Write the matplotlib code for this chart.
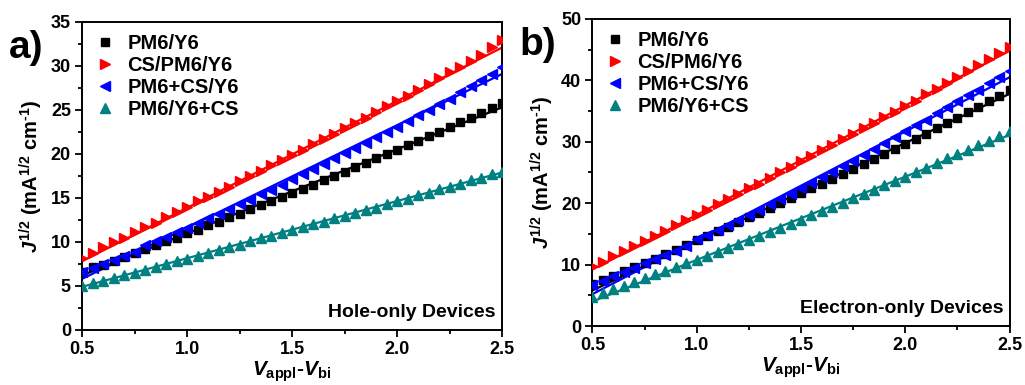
import numpy as np
import matplotlib.pyplot as plt

plt.rcParams['font.family'] = ['Liberation Sans', 'DejaVu Sans']
plt.rcParams['font.weight'] = 'bold'
plt.rcParams['mathtext.fontset'] = 'custom'
plt.rcParams['mathtext.rm'] = 'Liberation Sans:bold'
plt.rcParams['mathtext.it'] = 'Liberation Sans:bold:italic'
plt.rcParams['mathtext.bf'] = 'Liberation Sans:bold'

# applied voltage minus built-in voltage, 0.5 .. 2.5 V in 0.05 V steps
volts = [round(0.5 + 0.05 * i, 2) for i in range(41)]

labels = ['PM6/Y6', 'CS/PM6/Y6', 'PM6+CS/Y6', 'PM6/Y6+CS']
colors = ['#000000', '#ff0000', '#0000ff', '#008080']
markers = ['s', '>', '<', '^']

# hole-only devices, J^1/2
hole_pm6y6 = [6.6, 7.1, 7.4, 7.8, 8.3, 8.7, 9.2, 9.6, 10.1, 10.5, 11.0, 11.4, 11.9, 12.3,
              12.8, 13.2, 13.7, 14.2, 14.6, 15.1, 15.6, 16.0, 16.5, 17.0, 17.5, 18.0, 18.5,
              19.0, 19.5, 20.0, 20.5, 21.0, 21.5, 22.0, 22.5, 23.1, 23.6, 24.1, 24.7, 25.2, 25.8]
hole_cs_top = [8.2, 8.8, 9.4, 10.0, 10.5, 11.1, 11.7, 12.2, 12.8, 13.4, 14.0, 14.6, 15.1, 15.7,
               16.3, 16.9, 17.5, 18.1, 18.7, 19.3, 19.9, 20.5, 21.1, 21.7, 22.3, 22.9, 23.5,
               24.1, 24.8, 25.4, 26.0, 26.6, 27.3, 27.9, 28.6, 29.3, 29.9, 30.6, 31.3, 32.1, 32.9]
hole_cs_pm6 = [6.6, 7.0, 7.5, 7.9, 8.4, 8.9, 9.6, 10.1, 10.6, 11.1, 11.6, 12.1, 12.7, 13.2,
               13.8, 14.3, 14.8, 15.4, 15.9, 16.5, 17.1, 17.7, 18.3, 18.9, 19.5, 20.1, 20.7,
               21.3, 21.9, 22.5, 23.1, 23.7, 24.4, 25.0, 25.7, 26.3, 27.0, 27.7, 28.4, 29.1, 29.9]
hole_cs_y6 = [5.0, 5.3, 5.6, 5.9, 6.2, 6.5, 6.8, 7.1, 7.5, 7.8, 8.1, 8.4, 8.7, 9.1,
              9.4, 9.7, 10.1, 10.4, 10.7, 11.0, 11.4, 11.7, 12.0, 12.3, 12.7, 13.0, 13.3,
              13.6, 13.9, 14.3, 14.6, 14.9, 15.3, 15.6, 16.0, 16.3, 16.6, 17.0, 17.3, 17.7, 18.0]
# linear fits: value at 0.5 V and at 2.5 V
hole_fit_start = [6.2, 7.8, 5.8, 4.9]
hole_fit_end = [25.3, 32.1, 29.1, 17.9]

# electron-only devices, J^1/2
elec_pm6y6 = [6.9, 7.5, 8.2, 8.9, 9.6, 10.3, 11.0, 11.7, 12.4, 13.2, 14.0, 14.7, 15.4, 16.2,
              16.9, 17.7, 18.4, 19.2, 20.0, 20.8, 21.7, 22.4, 23.2, 24.0, 24.8, 25.6, 26.4,
              27.2, 28.0, 28.8, 29.7, 30.5, 31.3, 32.2, 33.1, 33.9, 34.8, 35.7, 36.6, 37.5, 38.5]
elec_cs_top = [9.7, 10.5, 11.4, 12.2, 13.0, 13.9, 14.7, 15.5, 16.4, 17.2, 18.1, 18.9, 19.8, 20.7,
               21.5, 22.4, 23.2, 24.1, 25.0, 25.9, 26.8, 27.7, 28.6, 29.5, 30.4, 31.3, 32.2,
               33.1, 34.0, 34.9, 35.8, 36.7, 37.7, 38.6, 39.6, 40.6, 41.5, 42.5, 43.5, 44.5, 45.5]
elec_cs_pm6 = [6.7, 7.4, 8.1, 8.8, 9.5, 10.2, 10.9, 11.6, 12.3, 13.1, 14.1, 14.9, 15.7, 16.5,
               17.3, 18.1, 18.9, 19.8, 20.7, 21.5, 22.4, 23.3, 24.2, 25.1, 26.0, 26.9, 27.9,
               28.8, 29.8, 30.7, 31.7, 32.7, 33.6, 34.6, 35.6, 36.6, 37.6, 38.5, 39.5, 40.5, 41.5]
elec_cs_y6 = [4.8, 5.4, 6.0, 6.6, 7.2, 7.8, 8.4, 9.0, 9.6, 10.2, 10.8, 11.4, 12.1, 12.7,
              13.4, 14.0, 14.7, 15.3, 16.0, 16.6, 17.3, 18.0, 18.7, 19.4, 20.1, 20.8, 21.5,
              22.2, 22.9, 23.6, 24.3, 25.0, 25.8, 26.5, 27.3, 28.0, 28.7, 29.5, 30.2, 31.0, 31.7]
elec_fit_start = [5.8, 9.2, 5.2, 4.0]
elec_fit_end = [37.8, 44.8, 40.5, 31.1]


def drawPanel(ax, series, fitStart, fitEnd, ymax, ystep, tag, note):
    for i in range(4):
        ax.plot([0.5, 2.5], [fitStart[i], fitEnd[i]], color=colors[i], lw=1.6, zorder=2)
        ms = 5.5 if markers[i] == 's' else 7
        ax.plot(volts, series[i], ls='none', marker=markers[i], ms=ms, color=colors[i],
                mec=colors[i], label=labels[i], zorder=3)

    ax.set_xlim(0.5, 2.5)
    ax.set_ylim(0, ymax)
    ax.set_xticks([0.5, 1.0, 1.5, 2.0, 2.5])
    ax.set_xticks(np.arange(0.75, 2.5, 0.5), minor=True)
    ax.set_yticks(np.arange(0, ymax + 1, ystep))
    ax.set_yticks(np.arange(ystep / 2, ymax, ystep), minor=True)
    ax.tick_params(which='major', direction='out', length=5, width=1.3, labelsize=13, pad=3)
    ax.tick_params(which='minor', direction='out', length=3, width=1.3)
    for s in ax.spines.values():
        s.set_linewidth(1.4)

    ax.set_xlabel(r'$\mathit{V}_{\mathrm{appl}}$-$\mathit{V}_{\mathrm{bi}}$', fontsize=15,
                  fontweight='bold', labelpad=1)
    ax.set_ylabel(r'$\mathit{J}^{1/2}$ (mA$^{1/2}$ cm$^{\text{-}1}$)', fontsize=14.5,
                  fontweight='bold', labelpad=4)

    ax.legend(loc='upper left', frameon=False, fontsize=14.5, handletextpad=0.35,
              borderaxespad=0.2, labelspacing=0.15, handlelength=1.5,
              bbox_to_anchor=(-0.01, 1.0))
    ax.text(0.985, 0.03, note, transform=ax.transAxes, ha='right', va='bottom', fontsize=14)
    ax.text(-0.175, 0.975, tag, transform=ax.transAxes, ha='left', va='top', fontsize=28)


fig = plt.figure(figsize=(10.25, 3.85), dpi=100)
axA = fig.add_axes([0.080, 0.143, 0.410, 0.800])
axB = fig.add_axes([0.578, 0.153, 0.407, 0.798])

drawPanel(axA, [hole_pm6y6, hole_cs_top, hole_cs_pm6, hole_cs_y6],
          hole_fit_start, hole_fit_end, 35, 5, 'a)', 'Hole-only Devices')
drawPanel(axB, [elec_pm6y6, elec_cs_top, elec_cs_pm6, elec_cs_y6],
          elec_fit_start, elec_fit_end, 50, 10, 'b)', 'Electron-only Devices')

fig.savefig('out.png', dpi=100)
